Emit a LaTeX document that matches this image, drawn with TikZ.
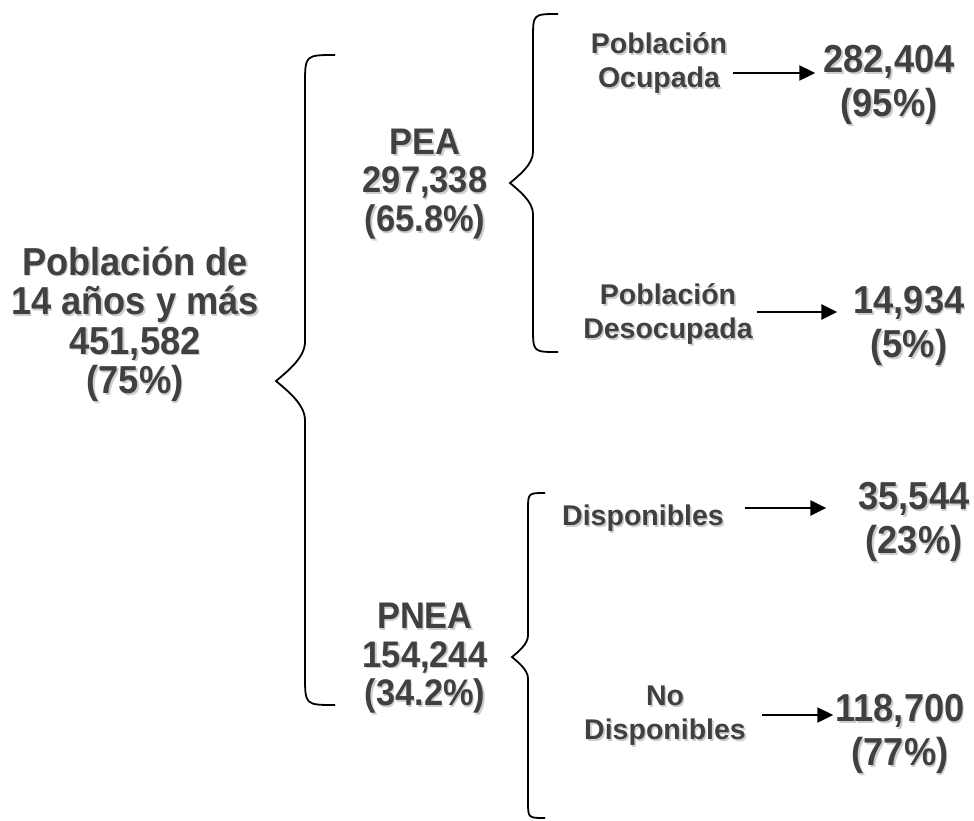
\documentclass[tikz,border=0pt]{standalone}
\usepackage{fontspec}
\setmainfont{Liberation Sans}
\newfontfamily\tallfont{Liberation Sans}[FakeStretch=0.93]
\usetikzlibrary{arrows.meta}
\definecolor{ink}{HTML}{404040}
\definecolor{shade}{HTML}{CDCDCD}
\def\sh#1{\leavevmode\rlap{\hspace{1.6pt}\raisebox{-1.8pt}{\color{shade}#1}}#1}
\def\curly(#1,#2,#3)(#4,#5,#6){%
	\pgfmathsetmacro\rr{1.35*(#2-#3)}%
	\pgfmathsetmacro\ww{#2-#3}%
	\draw[brace] (#1,#4) .. controls (#2,#4) .. (#2,#4+#1-#2) -- (#2,#5-\rr)
		.. controls (#2,#5-0.6*\rr) and (#3+0.4*\ww,#5-0.25*\rr) .. (#3,#5)
		.. controls (#3+0.4*\ww,#5+0.25*\rr) and (#2,#5+0.6*\rr) .. (#2,#5+\rr)
		-- (#2,#6-#1+#2) .. controls (#2,#6) .. (#1,#6);}

\begin{document}
\begin{tikzpicture}[x=1pt, y=-1pt,
	brace/.style={line width=1.8pt},
	arr/.style={line width=2.4pt, -{Triangle[length=16pt,width=15pt]}},
	txt/.style={text=ink, align=center, inner sep=0pt},
	huge/.style={txt, font=\tallfont\fontsize{39}{39.5}\selectfont\bfseries},
	mid/.style={txt, font=\tallfont\fontsize{37}{38.5}\selectfont\bfseries},
	val/.style={txt, font=\tallfont\fontsize{39}{44}\selectfont\bfseries},
	small/.style={txt, font=\fontsize{28.5}{34}\selectfont\bfseries}]
		%%%%% FRAME %%%%%
		\useasboundingbox (0,0) rectangle (974,820);
		
		%%%%% BRACES %%%%%
		\curly(335,305,276)(55,381,705)
		\curly(558,533,510)(14,183,352)
		\curly(545,528,512)(493,657,818)
		
		%%%%% TEXTS %%%%%
		\node[huge] (pob) at (135, 325) {\sh{Población de}\\\sh{14 años y más}\\\sh{451,582}\\\sh{(75\%)}};
		
		\node[mid] (pea) at (425, 185) {\sh{PEA}\\\sh{297,338}\\\sh{(65.8\%)}};
		\node[mid] (pnea) at (425, 659) {\sh{PNEA}\\\sh{154,244}\\\sh{(34.2\%)}};
		
		\node[small] (ocup) at (659, 64) {\sh{Población}\\\sh{Ocupada}};
		\node[small] (desoc) at (668, 315) {\sh{Población}\\\sh{Desocupada}};
		\node[small] (disp) at (643, 519) {\sh{Disponibles}};
		\node[small] (nodisp) at (665, 717) {\sh{No}\\\sh{Disponibles}};
		
		\node[val] (v282) at (889, 86) {\sh{282,404}\\\sh{(95\%)}};
		\node[val] (v149) at (909, 327) {\sh{14,934}\\\sh{(5\%)}};
		\node[val] (v355) at (914, 523) {\sh{35,544}\\\sh{(23\%)}};
		\node[val] (v1187) at (900, 735) {\sh{118,700}\\\sh{(77\%)}};
		
		%%%%% ARROWS %%%%%
		\draw[arr, shorten <=6pt, shorten >=8pt] (ocup.east |- 0,73) -- (v282.west |- 0,73);
		\draw[arr, shorten <=4pt, shorten >=16pt] (desoc.east |- 0,312) -- (v149.west |- 0,312);
		\draw[arr, shorten <=21pt, shorten >=32pt] (disp.east |- 0,508) -- (v355.west |- 0,508);
		\draw[arr, shorten <=16pt, shorten >=2pt] (nodisp.east |- 0,715) -- (v1187.west |- 0,715);
		
		%%%%% END %%%%%
\end{tikzpicture}
\end{document}
